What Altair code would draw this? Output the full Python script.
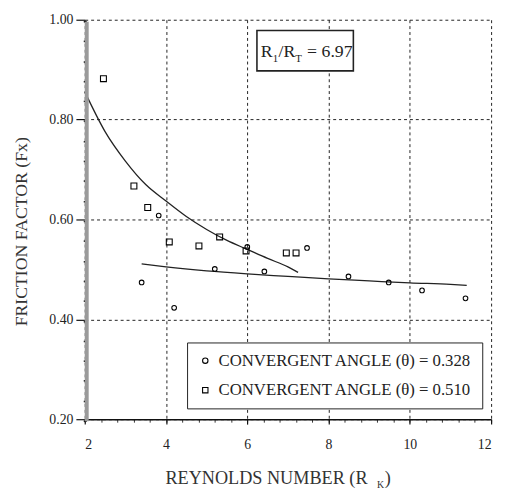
import altair as alt
import pandas as pd

# Data
sq_x = [2.46, 3.21, 3.55, 4.08, 4.81, 5.32, 5.97, 6.96, 7.20]
sq_y = [0.882, 0.667, 0.624, 0.555, 0.547, 0.565, 0.537, 0.533, 0.533]
ci_x = [3.40, 3.82, 4.20, 5.20, 6.00, 6.42, 7.47, 8.49, 9.48, 10.30, 11.37]
ci_y = [0.474, 0.608, 0.423, 0.501, 0.545, 0.496, 0.543, 0.486, 0.474, 0.458, 0.442]

fit_sq_x = [2.0, 2.5, 3.0, 3.5, 4.0, 4.5, 5.0, 5.5, 6.0, 6.5, 7.0, 7.25]
fit_sq_y = [0.856, 0.776, 0.717, 0.670, 0.637, 0.606, 0.580, 0.558, 0.540, 0.522, 0.505, 0.494]
fit_ci_x = [3.4, 4.0, 5.0, 6.0, 7.0, 8.0, 9.0, 10.0, 11.0, 11.4]
fit_ci_y = [0.511, 0.505, 0.497, 0.491, 0.486, 0.481, 0.477, 0.473, 0.470, 0.468]

series_names = ["CONVERGENT ANGLE (\u03b8) = 0.328", "CONVERGENT ANGLE (\u03b8) = 0.510"]
x_ticks = [2, 4, 6, 8, 10, 12]
y_ticks = [0.2, 0.4, 0.6, 0.8, 1.0]
x_minor = [round(2 + 0.4 * i, 2) for i in range(26)]
y_minor = [round(0.2 + 0.04 * i, 2) for i in range(21)]

pts = pd.DataFrame(
    {"x": ci_x + sq_x,
     "y": ci_y + sq_y,
     "s": [series_names[0]] * len(ci_x) + [series_names[1]] * len(sq_x)}
)
fits = pd.DataFrame(
    {"x": fit_ci_x + fit_sq_x,
     "y": fit_ci_y + fit_sq_y,
     "s": ["a"] * len(fit_ci_x) + ["b"] * len(fit_sq_x)}
)

SERIF = "Liberation Serif, Times New Roman, serif"

xscale = alt.Scale(domain=[2, 12], nice=False, zero=False)
yscale = alt.Scale(domain=[0.2, 1.0], nice=False, zero=False)

x_major_axis = alt.Axis(values=x_ticks, format="d", orient="bottom", title=None,
                        labelFont=SERIF, labelFontSize=14, labelColor="#222",
                        labelPadding=14, tickSize=5, tickColor="#111", tickWidth=1.2,
                        domainColor="#111", domainWidth=1.6,
                        grid=True, gridColor="#222", gridDash=[3, 3], gridWidth=1)
y_major_axis = alt.Axis(values=y_ticks, format=".2f", orient="left",
                        title="FRICTION FACTOR (Fx)", titleFont=SERIF, titleFontSize=18,
                        titleFontWeight="normal", titleColor="#333", titlePadding=19,
                        titleY=215,
                        labelFont=SERIF, labelFontSize=14, labelColor="#222",
                        labelPadding=3, tickSize=9, tickColor="#111", tickWidth=1.2,
                        domain=False, zindex=0,
                        grid=True, gridColor="#222", gridDash=[3, 3], gridWidth=1)

x_minor_axis = alt.Axis(values=x_minor, orient="bottom", labels=False, title=None,
                        domain=False, grid=False, tickSize=3, tickColor="#333",
                        tickWidth=1)
y_minor_axis = alt.Axis(values=y_minor, orient="left", labels=False, title=None,
                        domain=True, domainColor="#9a9a9a", domainWidth=4,
                        grid=False, tickSize=3, tickColor="#111",
                        tickWidth=1.6, translate=2, zindex=1)

points = alt.Chart(pts).mark_point(filled=False, color="black", strokeWidth=1.1, opacity=1).encode(
    x=alt.X("x:Q", scale=xscale, axis=x_major_axis),
    y=alt.Y("y:Q", scale=yscale, axis=y_major_axis),
    shape=alt.Shape("s:N",
                    scale=alt.Scale(domain=series_names, range=["circle", "square"]),
                    legend=alt.Legend(title=None, orient="none", legendX=104, legendY=328,
                                      labelFont=SERIF, labelFontSize=17, labelColor="#222",
                                      labelLimit=400,
                                      symbolStrokeColor="black", symbolFillColor="white",
                                      symbolSize=30, symbolStrokeWidth=1.1,
                                      strokeColor="#222", fillColor="white",
                                      padding=10, rowPadding=12, labelOffset=5)),
    size=alt.Size("s:N", scale=alt.Scale(domain=series_names, range=[22, 36]), legend=None),
)

lines = alt.Chart(fits).mark_line(color="#222", strokeWidth=1.3, interpolate="monotone").encode(
    x=alt.X("x:Q", scale=xscale, axis=x_minor_axis),
    y=alt.Y("y:Q", scale=yscale, axis=y_minor_axis),
    detail="s:N",
)

# Annotation box R1/RT = 6.97
box = alt.Chart(pd.DataFrame({"a": [0]})).mark_rect(
    fill="white", stroke="#222", strokeWidth=1.6
).encode(x=alt.value(175), x2=alt.value(273), y=alt.value(11), y2=alt.value(52))

ann_parts = pd.DataFrame({
    "t": ["R", "1", "/R", "T", "= 6.97"],
    "px": [179, 191, 197, 214, 226],
    "py": [38, 43, 38, 43, 38],
    "fs": [18, 11, 18, 11, 18],
})
ann = alt.Chart(ann_parts).mark_text(font=SERIF, align="left", baseline="alphabetic",
                                     color="#222").encode(
    x=alt.X("px:Q", scale=None), y=alt.Y("py:Q", scale=None), text="t:N",
    size=alt.Size("fs:Q", scale=None, legend=None),
)

# X axis title with subscript
xt_parts = pd.DataFrame({
    "t": ["REYNOLDS NUMBER (R", "K", ")"],
    "px": [82, 297, 305],
    "py": [472, 476, 472],
    "fs": [18.5, 10, 18.5],
})
xtitle = alt.Chart(xt_parts).mark_text(font=SERIF, align="left", baseline="alphabetic",
                                       color="#333").encode(
    x=alt.X("px:Q", scale=None), y=alt.Y("py:Q", scale=None), text="t:N",
    size=alt.Size("fs:Q", scale=None, legend=None),
)

chart = alt.layer(lines, points, box, ann, xtitle).resolve_axis(
    x="independent", y="independent"
).resolve_scale(size="independent").properties(
    width=413, height=406,
    autosize=alt.AutoSizeParams(type="none"),
    padding={"left": 78, "top": 8, "right": 7, "bottom": 67},
).configure_view(stroke=None)

chart.save("out.html", embed_options={"renderer": "svg", "actions": False})
